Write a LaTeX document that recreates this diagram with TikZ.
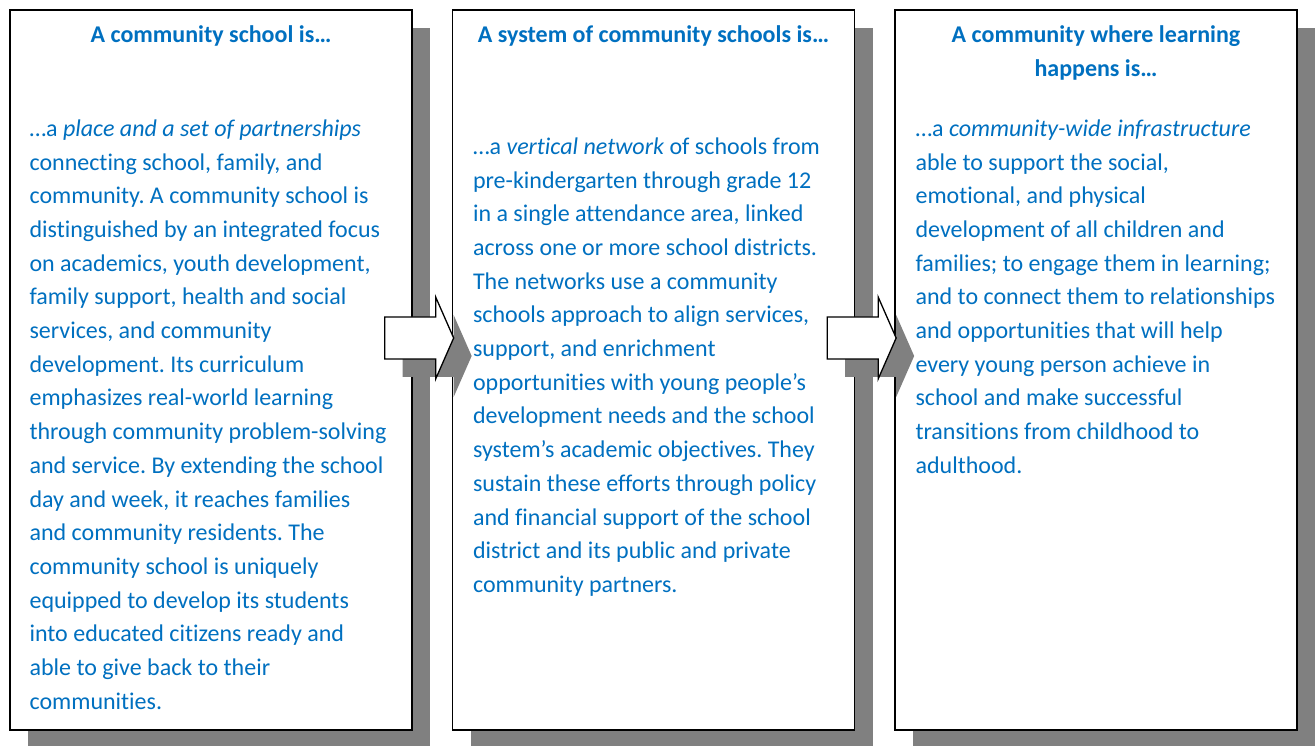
\documentclass[tikz,border=0pt]{standalone}
\usepackage{fontspec}
\setmainfont{Carlito}[Ligatures=NoCommon]
\usepackage{xcolor}
\usetikzlibrary{positioning,calc,shadows}
\definecolor{textblue}{RGB}{0,112,192}
\definecolor{shadowgray}{RGB}{128,128,128}
\frenchspacing

\begin{document}
\begin{tikzpicture}[
  x=1pt, y=1pt,
  font=\fontsize{24}{33.7}\selectfont,
  panel/.style={draw, line width=1.3pt, fill=white,
                minimum width=402pt, minimum height=720pt,
                drop shadow={shadow xshift=18pt, shadow yshift=-18pt,
                             fill=shadowgray, opacity=1}},
  heading/.style={text=textblue, font=\fontsize{24}{33.7}\selectfont\bfseries,
                  align=center, anchor=base, inner sep=0pt},
  body/.style={text=textblue, align=left, anchor=base west, inner sep=0pt},
  blockarr/.style={draw, line width=1.3pt, fill=white, line join=miter},
  blockshadow/.style={fill=shadowgray}
]
\useasboundingbox (0,0) rectangle (1316,745);

\node[panel] (box1) at (211,375) {};
\node[panel] (box2) at (653.5,375) {};
\node[panel] (box3) at (1096,375) {};

\node[heading] (head1) at ($(box1.north)+(0,-33)$) {A community school is…};
\node[heading] (head2) at ($(box2.north)+(0,-33)$) {A system of community schools is…};
\node[heading] (head3) at ($(box3.north)+(0,-33)$)
  {\parbox[t]{390pt}{\centering A community where learning\\happens is…}};

\node[body] (text1) at ($(box1.north west)+(20,-127)$)
  {\parbox[t]{380pt}{\raggedright
   …a \textit{place and a set of partnerships}\\
   connecting school, family, and\\
   community. A community school is\\
   distinguished by an integrated focus\\
   on academics, youth development,\\
   family support, health and social\\
   services, and community\\
   development. Its curriculum\\
   emphasizes real-world learning\\
   through community problem-solving\\
   and service. By extending the school\\
   day and week, it reaches families\\
   and community residents. The\\
   community school is uniquely\\
   equipped to develop its students\\
   into educated citizens ready and\\
   able to give back to their\\
   communities.}};
\node[body] (text2) at ($(box2.north west)+(21,-145)$)
  {\parbox[t]{380pt}{\raggedright
   …a \textit{vertical network} of schools from\\
   pre-kindergarten through grade 12\\
   in a single attendance area, linked\\
   across one or more school districts.\\
   The networks use a community\\
   schools approach to align services,\\
   support, and enrichment\\
   opportunities with young people’s\\
   development needs and the school\\
   system’s academic objectives. They\\
   sustain these efforts through policy\\
   and financial support of the school\\
   district and its public and private\\
   community partners.}};
\node[body] (text3) at ($(box3.north west)+(21,-127)$)
  {\parbox[t]{380pt}{\raggedright
   …a \textit{community-wide infrastructure}\\
   able to support the social,\\
   emotional, and physical\\
   development of all children and\\
   families; to engage them in learning;\\
   and to connect them to relationships\\
   and opportunities that will help\\
   every young person achieve in\\
   school and make successful\\
   transitions from childhood to\\
   adulthood.}};

% block arrows between the panels
\foreach \from in {box1,box2} {
  \fill[blockshadow, shift={($(\from.east)+(18,-18)$)}]
    (-28,53) -- (23,53) -- (23,73) -- (41,32) -- (23,-9) -- (23,11)
    -- (-28,11) -- cycle;
  \draw[blockarr, shift={(\from.east)}]
    (-28,53) -- (23,53) -- (23,73) -- (41,32) -- (23,-9) -- (23,11)
    -- (-28,11) -- cycle;
}
\end{tikzpicture}
\end{document}
